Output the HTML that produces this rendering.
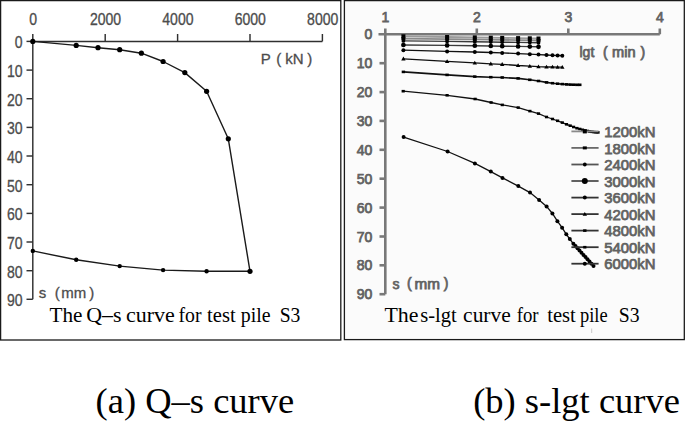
<!DOCTYPE html>
<html><head><meta charset="utf-8"><style>
html,body{margin:0;padding:0;background:#fff;width:685px;height:421px;overflow:hidden}
svg{display:block}
</style></head><body>
<svg width="685" height="421" viewBox="0 0 685 421">
<rect x="0" y="0" width="685" height="421" fill="#fff"/>
<rect x="344.5" y="0.5" width="339" height="338.5" fill="#fbfbfb"/>
<rect x="0.6" y="0.6" width="340.2" height="339.4" fill="none" stroke="#1a1a1a" stroke-width="1.3"/>
<rect x="344.4" y="0.6" width="339.9" height="339" fill="none" stroke="#1a1a1a" stroke-width="1.3"/>
<g stroke="#303030" stroke-width="1.45" fill="none">
<path d="M32.8 34 V299.3 M32.8 41.4 H322.4"/>
<path d="M105.2 41.4 V34"/>
<path d="M177.6 41.4 V34"/>
<path d="M250 41.4 V34"/>
<path d="M322.4 41.4 V34"/>
<path d="M26.5 41.4 H32.8"/>
<path d="M26.5 70.1 H32.8"/>
<path d="M26.5 98.7 H32.8"/>
<path d="M26.5 127.4 H32.8"/>
<path d="M26.5 156 H32.8"/>
<path d="M26.5 184.7 H32.8"/>
<path d="M26.5 213.4 H32.8"/>
<path d="M26.5 242 H32.8"/>
<path d="M26.5 270.7 H32.8"/>
<path d="M26.5 299.3 H32.8"/>
</g>
<g font-family="Liberation Sans, sans-serif" font-size="15.6" fill="#4c4c4c" stroke="#4c4c4c" stroke-width="0.3">
<text transform="translate(33.1,24.9) scale(0.9,1)" text-anchor="middle">0</text>
<text transform="translate(105.5,24.9) scale(0.9,1)" text-anchor="middle">2000</text>
<text transform="translate(177.9,24.9) scale(0.9,1)" text-anchor="middle">4000</text>
<text transform="translate(250.3,24.9) scale(0.9,1)" text-anchor="middle">6000</text>
<text transform="translate(322.7,24.9) scale(0.9,1)" text-anchor="middle">8000</text>
<text transform="translate(22.5,48.4) scale(0.9,1)" text-anchor="end">0</text>
<text transform="translate(22.5,77.1) scale(0.9,1)" text-anchor="end">10</text>
<text transform="translate(22.5,105.7) scale(0.9,1)" text-anchor="end">20</text>
<text transform="translate(22.5,134.4) scale(0.9,1)" text-anchor="end">30</text>
<text transform="translate(22.5,163) scale(0.9,1)" text-anchor="end">40</text>
<text transform="translate(22.5,191.7) scale(0.9,1)" text-anchor="end">50</text>
<text transform="translate(22.5,220.4) scale(0.9,1)" text-anchor="end">60</text>
<text transform="translate(22.5,249) scale(0.9,1)" text-anchor="end">70</text>
<text transform="translate(22.5,277.7) scale(0.9,1)" text-anchor="end">80</text>
<text transform="translate(22.5,306.3) scale(0.9,1)" text-anchor="end">90</text>
</g>
<polyline points="32.8,41.4 76.2,45.4 98,47.7 119.7,49.7 141.4,53.2 163.1,61.5 184.8,72.6 206.6,91.3 228.3,138.8 250,271.3 206.6,271.3 163.1,270.1 119.7,266.1 76.2,259.8 32.8,250.9" fill="none" stroke="#1a1a1a" stroke-width="1.4" stroke-linejoin="round"/>
<g fill="#000">
<circle cx="32.8" cy="41.4" r="2.6"/>
<circle cx="76.2" cy="45.4" r="2.6"/>
<circle cx="98" cy="47.7" r="2.6"/>
<circle cx="119.7" cy="49.7" r="2.6"/>
<circle cx="141.4" cy="53.2" r="2.6"/>
<circle cx="163.1" cy="61.5" r="2.6"/>
<circle cx="184.8" cy="72.6" r="2.6"/>
<circle cx="206.6" cy="91.3" r="2.6"/>
<circle cx="228.3" cy="138.8" r="2.6"/>
<circle cx="250" cy="271.3" r="2.6"/>
<circle cx="206.6" cy="271.3" r="2.2"/>
<circle cx="163.1" cy="270.1" r="2.2"/>
<circle cx="119.7" cy="266.1" r="2.2"/>
<circle cx="76.2" cy="259.8" r="2.2"/>
<circle cx="32.8" cy="250.9" r="2.2"/>
</g>
<g stroke="#787878" stroke-width="2.6" fill="none">
<path d="M385.3 28.5 V294.2 M378.5 34.3 H659.8"/>
<path d="M476.8 34.3 V28.5"/>
<path d="M568.3 34.3 V28.5"/>
<path d="M659.8 34.3 V28.5"/>
<path d="M379.5 63.2 H385.3"/>
<path d="M379.5 92.1 H385.3"/>
<path d="M379.5 120.9 H385.3"/>
<path d="M379.5 149.8 H385.3"/>
<path d="M379.5 178.7 H385.3"/>
<path d="M379.5 207.6 H385.3"/>
<path d="M379.5 236.5 H385.3"/>
<path d="M379.5 265.3 H385.3"/>
<path d="M379.5 294.2 H385.3"/>
</g>
<g font-family="Liberation Sans, sans-serif" font-size="14" fill="#626262" stroke="#626262" stroke-width="0.75">
<text x="385.3" y="21.6" text-anchor="middle">1</text>
<text x="476.8" y="21.6" text-anchor="middle">2</text>
<text x="568.3" y="21.6" text-anchor="middle">3</text>
<text x="659.8" y="21.6" text-anchor="middle">4</text>
<text x="372.3" y="39.3" text-anchor="end">0</text>
<text x="372.3" y="68.2" text-anchor="end">10</text>
<text x="372.3" y="97.1" text-anchor="end">20</text>
<text x="372.3" y="125.9" text-anchor="end">30</text>
<text x="372.3" y="154.8" text-anchor="end">40</text>
<text x="372.3" y="183.7" text-anchor="end">50</text>
<text x="372.3" y="212.6" text-anchor="end">60</text>
<text x="372.3" y="241.5" text-anchor="end">70</text>
<text x="372.3" y="270.3" text-anchor="end">80</text>
<text x="372.3" y="299.2" text-anchor="end">90</text>
</g>
<polyline points="403.4,36.3 447.1,37 474.8,37.4 490.8,37.7 502.2,37.9 518.1,38.1 529.8,38.3 538.5,38.5" fill="none" stroke="#9a9a9a" stroke-width="1.8"/>
<g fill="#000"><rect x="401.4" y="34.3" width="4" height="4"/><rect x="445.1" y="35" width="4" height="4"/><rect x="472.8" y="35.4" width="4" height="4"/><rect x="488.8" y="35.7" width="4" height="4"/><rect x="500.2" y="35.9" width="4" height="4"/><rect x="516.1" y="36.1" width="4" height="4"/><rect x="527.8" y="36.3" width="4" height="4"/><rect x="536.5" y="36.5" width="4" height="4"/></g>
<polyline points="403.4,38.6 447.1,39.1 474.8,39.4 490.8,39.7 502.2,39.9 518.1,40.1 529.8,40.3 538.5,40.5" fill="none" stroke="#8a8a8a" stroke-width="1.8"/>
<g fill="#000"><rect x="401.4" y="37.1" width="4" height="3"/><rect x="445.1" y="37.6" width="4" height="3"/><rect x="472.8" y="37.9" width="4" height="3"/><rect x="488.8" y="38.2" width="4" height="3"/><rect x="500.2" y="38.4" width="4" height="3"/><rect x="516.1" y="38.6" width="4" height="3"/><rect x="527.8" y="38.8" width="4" height="3"/><rect x="536.5" y="39" width="4" height="3"/></g>
<polyline points="403.4,40.9 447.1,41.4 474.8,41.7 490.8,42 502.2,42.2 518.1,42.4 529.8,42.6 538.5,42.8" fill="none" stroke="#3a3a3a" stroke-width="1.4"/>
<g fill="#000"><circle cx="403.4" cy="40.9" r="1.9"/><circle cx="447.1" cy="41.4" r="1.9"/><circle cx="474.8" cy="41.7" r="1.9"/><circle cx="490.8" cy="42" r="1.9"/><circle cx="502.2" cy="42.2" r="1.9"/><circle cx="518.1" cy="42.4" r="1.9"/><circle cx="529.8" cy="42.6" r="1.9"/><circle cx="538.5" cy="42.8" r="1.9"/></g>
<polyline points="403.4,45 447.1,45.4 474.8,45.7 490.8,46 502.2,46.2 518.1,46.4 529.8,46.6 538.5,46.8" fill="none" stroke="#3a3a3a" stroke-width="1.4"/>
<g fill="#000"><circle cx="403.4" cy="45" r="2.35"/><circle cx="447.1" cy="45.4" r="2.35"/><circle cx="474.8" cy="45.7" r="2.35"/><circle cx="490.8" cy="46" r="2.35"/><circle cx="502.2" cy="46.2" r="2.35"/><circle cx="518.1" cy="46.4" r="2.35"/><circle cx="529.8" cy="46.6" r="2.35"/><circle cx="538.5" cy="46.8" r="2.35"/></g>
<polyline points="403.4,50.2 447.1,51.4 474.8,52 490.8,52.5 502.2,52.9 518.1,53.6 529.8,54.2 538.5,54.6 546.5,55 552.5,55.3 557.6,55.5 562.3,55.7" fill="none" stroke="#111" stroke-width="1.3"/>
<g fill="#000"><circle cx="403.4" cy="50.2" r="2.0"/><circle cx="447.1" cy="51.4" r="2.0"/><circle cx="474.8" cy="52" r="2.0"/><circle cx="490.8" cy="52.5" r="2.0"/><circle cx="502.2" cy="52.9" r="2.0"/><circle cx="518.1" cy="53.6" r="2.0"/><circle cx="529.8" cy="54.2" r="2.0"/><circle cx="538.5" cy="54.6" r="2.0"/><circle cx="546.5" cy="55" r="2.0"/><circle cx="552.5" cy="55.3" r="2.0"/><circle cx="557.6" cy="55.5" r="2.0"/><circle cx="562.3" cy="55.7" r="2.0"/></g>
<polyline points="403.4,58.8 447.1,61.4 474.8,62.9 490.8,63.8 502.2,64.3 518.1,65.5 529.8,66.1 538.5,66.7 546.5,67 552.5,67 557.6,67.1 562.3,67.2" fill="none" stroke="#111" stroke-width="1.3"/>
<g fill="#000"><path d="M403.4 56.6 L405.6 60.4 L401.2 60.4Z"/><path d="M447.1 59.2 L449.3 63 L444.9 63Z"/><path d="M474.8 60.7 L477 64.5 L472.6 64.5Z"/><path d="M490.8 61.6 L493 65.4 L488.6 65.4Z"/><path d="M502.2 62.1 L504.4 65.9 L500 65.9Z"/><path d="M518.1 63.3 L520.3 67.1 L515.9 67.1Z"/><path d="M529.8 63.9 L532 67.7 L527.6 67.7Z"/><path d="M538.5 64.5 L540.7 68.3 L536.3 68.3Z"/><path d="M546.5 64.8 L548.7 68.6 L544.3 68.6Z"/><path d="M552.5 64.8 L554.7 68.6 L550.3 68.6Z"/><path d="M557.6 64.9 L559.8 68.7 L555.4 68.7Z"/><path d="M562.3 65 L564.5 68.8 L560.1 68.8Z"/></g>
<polyline points="403.4,71.9 447.1,74.9 474.8,76.6 490.8,77.2 502.2,77.5 518.1,78.4 529.8,79.8 538.5,81 546.5,82.4 552.5,83.2 557.6,83.7 562.3,84.1 566.5,84.4 570.2,84.6 573.6,84.7 576.9,84.8 579.8,84.8" fill="none" stroke="#111" stroke-width="1.6"/>
<g fill="#000"><rect x="401.7" y="70.6" width="3.4" height="2.6"/><rect x="445.4" y="73.6" width="3.4" height="2.6"/><rect x="473.1" y="75.3" width="3.4" height="2.6"/><rect x="489.1" y="75.9" width="3.4" height="2.6"/><rect x="500.5" y="76.2" width="3.4" height="2.6"/><rect x="516.4" y="77.1" width="3.4" height="2.6"/><rect x="528.1" y="78.5" width="3.4" height="2.6"/><rect x="536.8" y="79.7" width="3.4" height="2.6"/><rect x="544.8" y="81.1" width="3.4" height="2.6"/><rect x="550.8" y="81.9" width="3.4" height="2.6"/><rect x="555.9" y="82.4" width="3.4" height="2.6"/><rect x="560.6" y="82.8" width="3.4" height="2.6"/><rect x="564.8" y="83.1" width="3.4" height="2.6"/><rect x="568.5" y="83.3" width="3.4" height="2.6"/><rect x="571.9" y="83.4" width="3.4" height="2.6"/><rect x="575.2" y="83.5" width="3.4" height="2.6"/><rect x="578.1" y="83.5" width="3.4" height="2.6"/></g>
<polyline points="403.2,91.2 447.1,95.3 475.1,99 491.1,102.5 502.3,104.9 518.2,107.6 529.9,111.1 538.5,113.6 546.5,117 552.5,119 557.6,120.8 562.3,122.6 566.5,124.3 570.2,125.7 573.6,127 576.9,128.2 579.8,129 582.5,129.8 585.1,130.5 587.5,131 589.8,131.5 592,131.8 594,132.1 596,132.3 598,132.4" fill="none" stroke="#111" stroke-width="1.3"/>
<g fill="#000"><rect x="401.6" y="89.9" width="3.2" height="2.6"/><rect x="445.5" y="94" width="3.2" height="2.6"/><rect x="473.5" y="97.7" width="3.2" height="2.6"/><rect x="489.5" y="101.2" width="3.2" height="2.6"/><rect x="500.7" y="103.6" width="3.2" height="2.6"/><rect x="516.6" y="106.3" width="3.2" height="2.6"/><rect x="528.3" y="109.8" width="3.2" height="2.6"/><rect x="536.9" y="112.3" width="3.2" height="2.6"/><rect x="544.9" y="115.7" width="3.2" height="2.6"/><rect x="550.9" y="117.7" width="3.2" height="2.6"/><rect x="556" y="119.5" width="3.2" height="2.6"/><rect x="560.7" y="121.3" width="3.2" height="2.6"/><rect x="564.9" y="123" width="3.2" height="2.6"/><rect x="568.6" y="124.4" width="3.2" height="2.6"/><rect x="572" y="125.7" width="3.2" height="2.6"/><rect x="575.3" y="126.9" width="3.2" height="2.6"/><rect x="578.2" y="127.7" width="3.2" height="2.6"/><rect x="580.9" y="128.5" width="3.2" height="2.6"/><rect x="583.5" y="129.2" width="3.2" height="2.6"/><rect x="585.9" y="129.7" width="3.2" height="2.6"/><rect x="588.2" y="130.2" width="3.2" height="2.6"/><rect x="590.4" y="130.5" width="3.2" height="2.6"/><rect x="592.4" y="130.8" width="3.2" height="2.6"/><rect x="594.4" y="131" width="3.2" height="2.6"/><rect x="596.4" y="131.1" width="3.2" height="2.6"/></g>
<polyline points="403.6,137.1 447.6,151.5 474.9,163.4 490.8,171.6 502.5,177.9 518.3,186.1 530,192.6 539.1,200.1 546.6,206.4 552.4,213.5 557.4,221.2 562.1,227.7 566.3,234.3 569.8,239 573.4,243.8 575.5,246.1 577.5,248.3 579.5,250.5 581.5,252.7 583.5,254.9 585.5,257.1 587.5,259.3 589.5,261.5 591.5,263.7 593.5,265.9" fill="none" stroke="#111" stroke-width="1.3"/>
<g fill="#000"><circle cx="403.6" cy="137.1" r="2.0"/><circle cx="447.6" cy="151.5" r="2.0"/><circle cx="474.9" cy="163.4" r="2.0"/><circle cx="490.8" cy="171.6" r="2.0"/><circle cx="502.5" cy="177.9" r="2.0"/><circle cx="518.3" cy="186.1" r="2.0"/><circle cx="530" cy="192.6" r="2.0"/><circle cx="539.1" cy="200.1" r="2.0"/><circle cx="546.6" cy="206.4" r="2.0"/><circle cx="552.4" cy="213.5" r="2.0"/><circle cx="557.4" cy="221.2" r="2.0"/><circle cx="562.1" cy="227.7" r="2.0"/><circle cx="566.3" cy="234.3" r="2.0"/><circle cx="569.8" cy="239" r="2.0"/><circle cx="573.4" cy="243.8" r="2.0"/><circle cx="575.5" cy="246.1" r="2.0"/><circle cx="577.5" cy="248.3" r="2.0"/><circle cx="579.5" cy="250.5" r="2.0"/><circle cx="581.5" cy="252.7" r="2.0"/><circle cx="583.5" cy="254.9" r="2.0"/><circle cx="585.5" cy="257.1" r="2.0"/><circle cx="587.5" cy="259.3" r="2.0"/><circle cx="589.5" cy="261.5" r="2.0"/><circle cx="591.5" cy="263.7" r="2.0"/><circle cx="593.5" cy="265.9" r="2.0"/></g>
<g font-family="Liberation Sans, sans-serif" font-size="14" fill="#626262" stroke="#626262" stroke-width="0.75">
<text x="604.2" y="137" textLength="51.2" lengthAdjust="spacingAndGlyphs">1200kN</text>
<text x="604.2" y="153.5" textLength="51.2" lengthAdjust="spacingAndGlyphs">1800kN</text>
<text x="604.2" y="170.1" textLength="51.2" lengthAdjust="spacingAndGlyphs">2400kN</text>
<text x="604.2" y="186.6" textLength="51.2" lengthAdjust="spacingAndGlyphs">3000kN</text>
<text x="604.2" y="203.2" textLength="51.2" lengthAdjust="spacingAndGlyphs">3600kN</text>
<text x="604.2" y="219.7" textLength="51.2" lengthAdjust="spacingAndGlyphs">4200kN</text>
<text x="604.2" y="236.2" textLength="51.2" lengthAdjust="spacingAndGlyphs">4800kN</text>
<text x="604.2" y="252.8" textLength="51.2" lengthAdjust="spacingAndGlyphs">5400kN</text>
<text x="604.2" y="269.3" textLength="51.2" lengthAdjust="spacingAndGlyphs">6000kN</text>
</g>
<path d="M571.4 131.4 H598.6" stroke="#8a8a8a" stroke-width="1.8"/>
<g fill="#000"><rect x="582.8" y="129.4" width="4" height="4"/></g>
<path d="M571.4 147.9 H598.6" stroke="#6a6a6a" stroke-width="1.8"/>
<g fill="#000"><rect x="582.8" y="146.4" width="4" height="3"/></g>
<path d="M571.4 164.5 H598.6" stroke="#555" stroke-width="1.8"/>
<g fill="#000"><circle cx="584.8" cy="164.5" r="1.9"/></g>
<path d="M571.4 181 H598.6" stroke="#505050" stroke-width="1.8"/>
<g fill="#000"><circle cx="584.8" cy="181" r="3"/></g>
<path d="M571.4 197.6 H598.6" stroke="#333" stroke-width="1.8"/>
<g fill="#000"><circle cx="584.8" cy="197.6" r="2.0"/></g>
<path d="M571.4 214.1 H598.6" stroke="#333" stroke-width="1.8"/>
<g fill="#000"><path d="M584.8 211.9 L587 215.7 L582.6 215.7Z"/></g>
<path d="M571.4 230.6 H598.6" stroke="#333" stroke-width="1.8"/>
<g fill="#000"><rect x="583.1" y="229.3" width="3.4" height="2.6"/></g>
<path d="M571.4 247.2 H598.6" stroke="#333" stroke-width="1.8"/>
<g fill="#000"><rect x="583.2" y="245.9" width="3.2" height="2.6"/></g>
<path d="M571.4 263.7 H598.6" stroke="#333" stroke-width="1.8"/>
<g fill="#000"><circle cx="584.8" cy="263.7" r="2.0"/></g>
<g font-family="Liberation Sans, sans-serif" font-size="15" fill="#4c4c4c" stroke="#4c4c4c" stroke-width="0.3">
<text x="260.8" y="64.2">P</text><text x="276.3" y="63.8">(</text><text x="285.3" y="64.2">kN</text><text x="307.3" y="63.8">)</text>
<text x="38.8" y="298.1">s</text><text x="54.8" y="297.6">(</text><text x="61.3" y="298.1">mm</text><text x="89.3" y="297.6">)</text>
</g>
<g font-family="Liberation Sans, sans-serif" font-size="14" fill="#626262" stroke="#626262" stroke-width="0.75">
<text x="579.5" y="57">lgt</text><text x="603" y="56.5">(</text><text x="612" y="57" textLength="23.5" lengthAdjust="spacingAndGlyphs">min</text><text x="640.5" y="56.5">)</text>
<text x="392.5" y="288.5">s</text><text x="407" y="288">(</text><text x="414.5" y="288.5" textLength="25.5" lengthAdjust="spacingAndGlyphs">mm</text><text x="443.8" y="288">)</text>
</g>
<g font-family="Liberation Serif, serif" font-size="20.4" fill="#000">
<text transform="translate(49.5,322) scale(1.040,1)">The</text>
<text transform="translate(86.2,322) scale(1.072,1)">Q–s</text>
<text transform="translate(126,322) scale(1.078,1)">curve</text>
<text transform="translate(178.5,322) scale(0.967,1)">for</text>
<text transform="translate(207.1,322) scale(1.008,1)">test</text>
<text transform="translate(240.8,322) scale(0.973,1)">pile</text>
<text transform="translate(279.7,322) scale(0.960,1)">S3</text>
<text transform="translate(384.5,321.6) scale(1.072,1)">The</text>
<text transform="translate(420.3,321.6) scale(1.006,1)">s-lgt</text>
<text transform="translate(463.1,321.6) scale(1.053,1)">curve</text>
<text transform="translate(516.7,321.6) scale(0.918,1)">for</text>
<text transform="translate(547.2,321.6) scale(1.008,1)">test</text>
<text transform="translate(580,321.6) scale(0.903,1)">pile</text>
<text transform="translate(618.7,321.6) scale(0.965,1)">S3</text>
</g>
<path d="M591.7 328.5 V333" stroke="#c8c8c8" stroke-width="1"/>
<g font-family="Liberation Serif, serif" font-size="36.5" fill="#000">
<text x="95.6" y="413.3">(a) Q–s curve</text>
<text x="473.2" y="413.3">(b) s-lgt curve</text>
</g>
</svg>
</body></html>
